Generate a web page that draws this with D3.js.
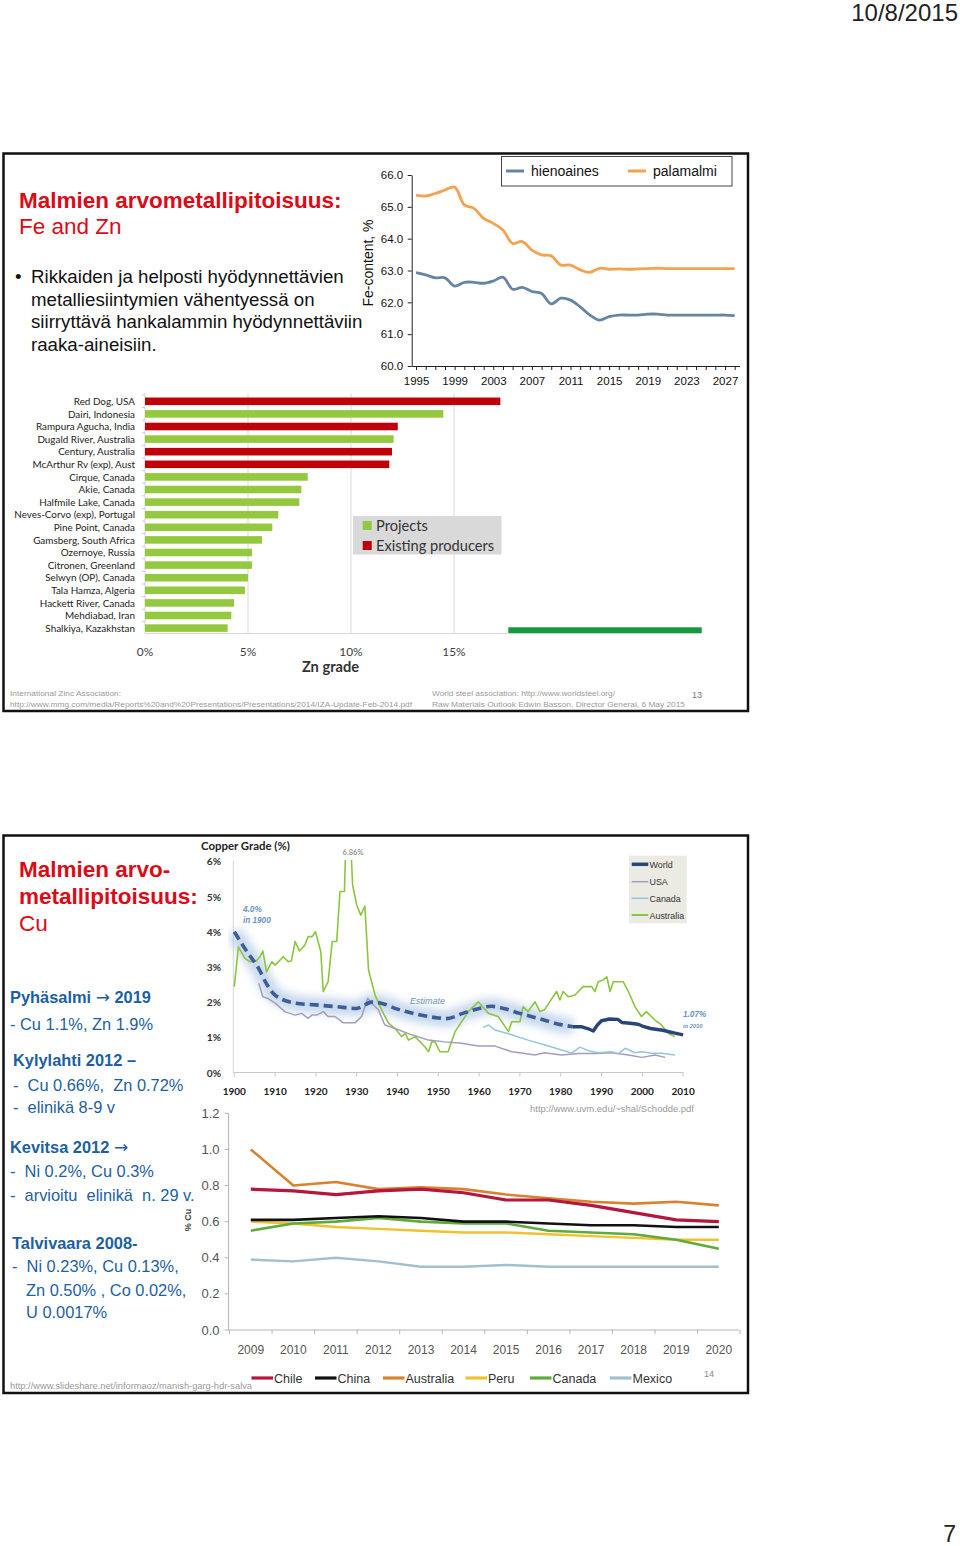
<!DOCTYPE html>
<html><head><meta charset="utf-8">
<script src="https://cdn.jsdelivr.net/npm/d3@7"></script>
<style>body{margin:0;background:#fff}svg{display:block}</style>
</head><body><svg id="c" width="960" height="1546"></svg>
<script>
// ---------------- DATA ----------------
const feYears = [1995,1996,1997,1998,1999,2000,2001,2002,2003,2004,2005,2006,2007,2008,2009,2010,2011,2012,2013,2014,2015,2016,2017,2018,2019,2020,2021,2022,2023,2024,2025,2026,2027,2028];
const fePalamalmi = [65.37,65.34,65.42,65.53,65.62,65.06,64.95,64.64,64.48,64.27,63.85,63.91,63.64,63.49,63.46,63.17,63.17,63.02,62.94,63.07,63.04,63.05,63.04,63.05,63.06,63.07,63.06,63.06,63.06,63.06,63.06,63.06,63.06,63.06];
const feHienoaines = [62.93,62.86,62.77,62.77,62.51,62.63,62.63,62.60,62.67,62.79,62.41,62.47,62.34,62.28,61.95,62.13,62.07,61.86,61.60,61.44,61.55,61.60,61.60,61.60,61.63,61.63,61.60,61.60,61.60,61.60,61.60,61.60,61.60,61.58];
const feYTicks = [60,61,62,63,64,65,66];
const feSeriesNames = ["hienoaines","palamalmi"];

const znMines = ["Red Dog, USA","Dairi, Indonesia","Rampura Agucha, India","Dugald River, Australia","Century, Australia","McArthur Rv (exp), Aust","Cirque, Canada","Akie, Canada","Halfmile Lake, Canada","Neves-Corvo (exp), Portugal","Pine Point, Canada","Gamsberg, South Africa","Ozernoye, Russia","Citronen, Greenland","Selwyn (OP), Canada","Tala Hamza, Algeria","Hackett River, Canada","Mehdiabad, Iran","Shalkiya, Kazakhstan"];
const znGrade = [17.25,14.48,12.27,12.07,11.99,11.86,7.90,7.59,7.49,6.47,6.18,5.68,5.19,5.19,5.00,4.85,4.32,4.19,4.01];
const znType = ["E","P","E","P","E","E","P","P","P","P","P","P","P","P","P","P","P","P","P"];
const znTicks = [0,5,10,15];
const znLegend = ["Projects","Existing producers"];

const cuYTicks = [0,1,2,3,4,5,6];
const cuXTicks = [1900,1910,1920,1930,1940,1950,1960,1970,1980,1990,2000,2010];
const cuWorldEstimate = [[1900,4.0],[1903,3.45],[1906,2.95],[1908,2.5],[1910,2.2],[1915,1.97],[1920,1.92],[1925,1.87],[1930,1.82],[1933.7,2.0],[1936,1.97],[1940,1.8],[1945,1.65],[1950,1.55],[1952,1.53],[1956,1.68],[1960,1.82],[1963,1.88],[1966,1.82],[1970,1.68],[1975,1.52],[1980,1.36],[1983,1.30]];
const cuWorld = [[1983,1.30],[1985,1.30],[1987,1.23],[1988,1.18],[1989,1.35],[1990,1.47],[1992,1.52],[1994,1.51],[1995,1.42],[1997,1.40],[1999,1.37],[2000,1.32],[2002,1.25],[2005,1.20],[2008,1.12],[2010,1.07]];
const cuAustralia = [[1900,2.44],[1901,3.57],[1902.6,3.24],[1903.8,3.15],[1905.4,3.17],[1906.3,3.29],[1907,3.45],[1907.9,2.86],[1909.2,3.15],[1910,3.05],[1912,3.29],[1913.2,3.15],[1914,3.17],[1914.9,3.72],[1916,3.45],[1917.3,3.62],[1918.1,3.86],[1919.1,3.86],[1919.9,4.0],[1921.2,3.43],[1921.8,2.3],[1923,2.58],[1924,3.72],[1925.1,3.72],[1925.9,5.14],[1927,5.14],[1927.4,6.86],[1928.4,6.86],[1929,5.33],[1930,4.76],[1931,4.47],[1932,4.73],[1932.9,2.91],[1934.5,2.2],[1936.1,1.78],[1937.8,1.40],[1939.4,1.25],[1941,1.02],[1941.9,1.11],[1942.7,0.92],[1944.3,1.02],[1946.7,0.73],[1947.6,0.59],[1948.4,0.87],[1949.2,0.87],[1950.4,0.59],[1952.4,0.59],[1954.1,1.16],[1955.7,1.44],[1957.4,1.73],[1959.8,2.01],[1962.3,1.68],[1964.7,1.59],[1967.2,1.16],[1968,1.44],[1970,1.44],[1970.8,1.87],[1972,1.73],[1973.7,2.01],[1974.9,1.73],[1976,1.78],[1979,2.30],[1979.8,2.06],[1980.6,2.30],[1981.9,2.15],[1983.5,2.20],[1985.5,2.44],[1987.6,2.44],[1988.4,2.30],[1989.2,2.58],[1990.4,2.63],[1991.3,2.72],[1992.1,2.30],[1992.9,2.58],[1995.3,2.58],[1996.6,2.30],[1998.2,1.87],[1999.8,1.59],[2001,1.73],[2003.1,1.49],[2004.7,1.35],[2006.4,1.11],[2008,1.02]];
const cuUSA = [[1906,2.53],[1907,2.15],[1908.3,2.10],[1910,1.97],[1912.4,1.73],[1914.9,1.63],[1916.5,1.68],[1918.1,1.54],[1919,1.63],[1920.2,1.63],[1921.8,1.73],[1923,1.59],[1924.7,1.59],[1926.7,1.41],[1929.6,1.41],[1931.2,1.59],[1932.7,2.11],[1933.7,1.97],[1935.3,1.78],[1936.9,1.35],[1939.4,1.25],[1943.5,1.07],[1947.6,0.92],[1951.6,0.87],[1955.7,0.83],[1959.8,0.75],[1963.9,0.75],[1968,0.59],[1970.8,0.55],[1973.7,0.50],[1976,0.56],[1980.2,0.50],[1984.3,0.54],[1988.4,0.54],[1992.5,0.56],[1996.6,0.50],[1999.9,0.43],[2003.1,0.50],[2005.6,0.43]];
const cuCanada = [[1961,1.28],[1962.3,1.35],[1963.9,1.21],[1968,1.07],[1972,0.92],[1976.2,0.78],[1980.2,0.64],[1982.7,0.55],[1984.7,0.72],[1986.8,0.62],[1989.2,0.56],[1992.5,0.59],[1994.1,0.53],[1995.8,0.69],[1998.2,0.56],[1999.9,0.59],[2002.3,0.55],[2004.8,0.55],[2008,0.50]];
const cuLegendNames = ["World","USA","Canada","Australia"];

const gradeYears = ["2009","2010","2011","2012","2013","2014","2015","2016","2017","2018","2019","2020"];
const gradeYTicks = [0,0.2,0.4,0.6,0.8,1.0,1.2];
const gradeCountries = ["Chile","China","Australia","Peru","Canada","Mexico"];
const gradeChile = [0.78,0.77,0.75,0.77,0.78,0.76,0.72,0.72,0.69,0.65,0.61,0.60];
const gradeChina = [0.61,0.61,0.62,0.63,0.62,0.60,0.60,0.59,0.58,0.58,0.57,0.57];
const gradeAustralia = [1.00,0.80,0.82,0.78,0.79,0.78,0.75,0.73,0.71,0.70,0.71,0.69];
const gradePeru = [0.60,0.59,0.57,0.56,0.55,0.54,0.54,0.53,0.52,0.51,0.50,0.50];
const gradeCanada = [0.55,0.59,0.60,0.62,0.60,0.59,0.59,0.55,0.54,0.53,0.50,0.45];
const gradeMexico = [0.39,0.38,0.40,0.38,0.35,0.35,0.36,0.35,0.35,0.35,0.35,0.35];

// ---------------- STYLE ----------------
const ARIAL = "'Liberation Sans', Arial, sans-serif";
const NARROW = "'Liberation Sans Narrow', 'Liberation Sans', Arial, sans-serif";
const CAL = "Lato, 'Open Sans', sans-serif";
const RED = "#dc0a16";
const BLUE = "#1d5fa3";

const svg = d3.select("#c");
svg.append("rect").attr("width",960).attr("height",1546).attr("fill","#fff");
const defs = svg.append("defs");
defs.append("filter").attr("id","glow").attr("x","-20%").attr("y","-50%").attr("width","140%").attr("height","200%")
  .append("feGaussianBlur").attr("stdDeviation",4);
defs.append("clipPath").attr("id","cuclip").append("rect").attr("x",228).attr("y",860).attr("width",470).attr("height",220);

function txt(g, x, y, s, o={}) {
  const fs = o.fs || 12;
  const t = g.append("text").attr("x",x).attr("y",y).text(s)
    .attr("font-family", o.ff || ARIAL).attr("font-size", fs)
    .attr("fill", o.fill || "#000");
  if (o.fw) t.attr("font-weight", o.fw);
  if (o.anchor) t.attr("text-anchor", o.anchor);
  if (o.italic) t.attr("font-style","italic");
  if (o.w) { const w = t.node().getComputedTextLength(); t.attr("font-size", fs*o.w/w); }
  if (o.tl) t.attr("textLength", o.tl).attr("lengthAdjust","spacingAndGlyphs");
  return t;
}
function fitSize(ff, fw, fs, s, target, italic) {
  const t = svg.append("text").attr("font-family",ff).attr("font-size",fs).attr("font-weight",fw||"normal").attr("font-style", italic?"italic":"normal").text(s);
  const w = t.node().getComputedTextLength(); t.remove();
  return fs*target/w;
}

// header / page number
txt(svg, 958, 21, "10/8/2015", {fs:24, anchor:"end", fill:"#222"});
txt(svg, 956, 1542, "7", {fs:23, anchor:"end", fill:"#222"});

// slide frames
svg.append("rect").attr("x",3.5).attr("y",153.5).attr("width",744.5).attr("height",557.5).attr("fill","none").attr("stroke","#111").attr("stroke-width",2.5);
svg.append("rect").attr("x",3.5).attr("y",835.5).attr("width",744.5).attr("height",557.5).attr("fill","none").attr("stroke","#111").attr("stroke-width",2.5);

// ================= SLIDE 1 =================
const s1 = svg.append("g");
txt(s1, 19, 208, "Malmien arvometallipitoisuus:", {fs:22.5, fw:"bold", fill:RED});
txt(s1, 19, 234, "Fe and Zn", {fs:22.5, fill:RED});
txt(s1, 15, 283, "•", {fs:18.7, fill:"#111"});
const bullet = ["Rikkaiden ja helposti hyödynnettävien","metalliesiintymien vähentyessä on","siirryttävä hankalammin hyödynnettäviin","raaka-aineisiin."];
bullet.forEach((l,i)=>txt(s1, 31, 283 + i*22.5, l, {fs:18.7, fill:"#111"}));

// ---- Fe chart ----
const xFe = d3.scaleLinear().domain([1994.55, 2028.5]).range([411.7, 739.5]);
const yFe = d3.scaleLinear().domain([60,66]).range([366,175]);
const feG = s1.append("g");
const yAx = feG.append("g").attr("transform","translate(411.7,0)")
  .call(d3.axisLeft(yFe).tickValues(feYTicks).tickFormat(d3.format(".1f")).tickSize(4).tickPadding(4.5).tickSizeOuter(0));
const xAx = feG.append("g").attr("transform","translate(0,366)")
  .call(d3.axisBottom(xFe).tickValues(feYears).tickFormat(d => (d-1995)%4===0 ? d : "").tickSize(4).tickPadding(6.5).tickSizeOuter(0));
[yAx,xAx].forEach(a=>{
  a.selectAll("path,line").attr("stroke","#222").attr("stroke-width",1);
  a.selectAll("text").attr("font-family",NARROW).attr("font-size",11.5).attr("fill","#111");
});
const feLine = d3.line().x((d,i)=>xFe(feYears[i])).y(d=>yFe(d)).curve(d3.curveCatmullRom.alpha(0.5));
feG.append("path").attr("d",feLine(feHienoaines)).attr("fill","none").attr("stroke","#6685a6").attr("stroke-width",2.8);
feG.append("path").attr("d",feLine(fePalamalmi)).attr("fill","none").attr("stroke","#f4a24e").attr("stroke-width",2.8);
txt(feG, 0, 0, "Fe-content, %", {fs:14, anchor:"middle", fill:"#111"}).attr("transform","translate(373,263) rotate(-90)");
// legend
feG.append("rect").attr("x",501.5).attr("y",156.5).attr("width",230.5).attr("height",29.5).attr("fill","#fff").attr("stroke","#444");
const feLegCol = ["#6685a6","#f4a24e"], feLegX = [506, 628];
feSeriesNames.forEach((n,i)=>{
  feG.append("line").attr("x1",feLegX[i]).attr("x2",feLegX[i]+18).attr("y1",171).attr("y2",171).attr("stroke",feLegCol[i]).attr("stroke-width",3);
  txt(feG, feLegX[i]+25, 176, n, {fs:14, fill:"#111"});
});

// ---- Zn chart ----
const znG = s1.append("g");
const xZn = d3.scaleLinear().domain([0,15]).range([145, 454]);
const yZn = d3.scaleBand().domain(znMines).range([395, 634.4]).paddingInner(0.4).paddingOuter(0.2);
znTicks.forEach(t=>{
  znG.append("line").attr("x1",xZn(t)).attr("x2",xZn(t)).attr("y1",393).attr("y2",633.5).attr("stroke", "#d9d9d9").attr("stroke-width",1);
});
znG.append("line").attr("x1",145).attr("x2",508).attr("y1",633.5).attr("y2",633.5).attr("stroke","#d9d9d9");
znMines.forEach((m,i)=>{
  const y0 = yZn.step()*i + 395;
  znG.append("line").attr("x1",142).attr("x2",145).attr("y1",y0).attr("y2",y0).attr("stroke","#ccc");
});
znG.selectAll("rect.bar").data(znMines).enter().append("rect").attr("class","bar")
  .attr("x",xZn(0)).attr("y",d=>yZn(d)).attr("height",yZn.bandwidth())
  .attr("width",(d,i)=>xZn(znGrade[i])-xZn(0))
  .attr("fill",(d,i)=>znType[i]==="E" ? "#c00008" : "#94c83e");
const znLabFs = fitSize(CAL, "normal", 10, "Neves-Corvo (exp), Portugal", 121);
znMines.forEach(m=>{
  txt(znG, 135, yZn(m)+yZn.bandwidth()/2+3.6, m, {fs:znLabFs, ff:CAL, anchor:"end", fill:"#222"});
});
const znTickFs = fitSize(CAL, "normal", 12, "10%", 23.3);
znTicks.forEach(t=>txt(znG, xZn(t), 656, t+"%", {fs:znTickFs, ff:CAL, anchor:"middle", fill:"#404040"}));
txt(znG, 330.5, 671.5, "Zn grade", {fs:14, ff:CAL, fw:"bold", anchor:"middle", fill:"#333", w:57.3});
// legend
znG.append("rect").attr("x",353).attr("y",516).attr("width",148.5).attr("height",38.5).attr("fill","#d9d9d9");
const znLegCol = ["#94c83e","#c00008"];
const znLegFs = fitSize(CAL, "normal", 14, "Existing producers", 118.3);
znLegend.forEach((n,i)=>{
  znG.append("rect").attr("x",362.7).attr("y",521+i*20).attr("width",9).attr("height",9).attr("fill",znLegCol[i]);
  txt(znG, 376, 530.5+i*20, n, {fs:znLegFs, ff:CAL, fill:"#333"});
});
znG.append("rect").attr("x",508.3).attr("y",627.3).attr("width",193.4).attr("height",6).attr("fill","#14993c");

// footers
txt(s1, 10, 696, "International Zinc Association:", {fs:8, ff:NARROW, fill:"#9a9a9a", tl:111});
txt(s1, 10, 707, "http://www.mmg.com/media/Reports%20and%20Presentations/Presentations/2014/IZA-Update-Feb-2014.pdf", {fs:8, ff:NARROW, fill:"#9a9a9a", tl:402});
txt(s1, 432, 696, "World steel association: http://www.worldsteel.org/", {fs:8, ff:NARROW, fill:"#9a9a9a", tl:183});
txt(s1, 432, 707, "Raw Materials Outlook  Edwin Basson, Director General,  6 May 2015", {fs:8, ff:NARROW, fill:"#9a9a9a", tl:253});
txt(s1, 692, 698, "13", {fs:9, ff:NARROW, fill:"#777"});

// ================= SLIDE 2 =================
const s2 = svg.append("g");
txt(s2, 19, 877, "Malmien arvo-", {fs:22.5, fw:"bold", fill:RED});
txt(s2, 19, 904, "metallipitoisuus:", {fs:22.5, fw:"bold", fill:RED});
txt(s2, 19, 931, "Cu", {fs:22.5, fill:RED});

const leftTexts = [
  [10,1003,"Pyhäsalmi \u2192 2019",true],
  [10,1030,"- Cu 1.1%, Zn 1.9%",false],
  [13,1066,"Kylylahti 2012 \u2013",true],
  [13,1091,"-  Cu 0.66%,  Zn 0.72%",false],
  [13,1113,"-  elinikä 8-9 v",false],
  [10,1153,"Kevitsa 2012 \u2192",true],
  [10,1177,"-  Ni 0.2%, Cu 0.3%",false],
  [10,1201,"-  arvioitu  elinikä  n. 29 v.",false],
  [12,1249,"Talvivaara 2008-",true],
  [12,1272,"-  Ni 0.23%, Cu 0.13%,",false],
  [26,1296,"Zn 0.50% , Co 0.02%,",false],
  [26,1318,"U 0.0017%",false]
];
leftTexts.forEach(d=>{
  const t = s2.append("text").attr("x",d[0]).attr("y",d[1]).attr("font-family",ARIAL).attr("font-size",16.4)
    .attr("font-weight", d[3]?"bold":"normal").attr("fill",BLUE).style("white-space","pre");
  d[2].split(/(\u2192)/).forEach(part=>{
    if (part === "\u2192") t.append("tspan").attr("font-family","'DejaVu Sans', sans-serif").attr("font-weight","normal").attr("font-size",17).text(part);
    else if (part.length) t.append("tspan").text(part);
  });
});

// ---- Copper grade chart ----
const cuG = s2.append("g");
const xCu = d3.scaleLinear().domain([1900,2010]).range([234.3,683.1]);
const yCu = d3.scaleLinear().domain([0,6]).range([1072.5,861.3]);
cuG.append("line").attr("x1",233.3).attr("x2",233.3).attr("y1",861).attr("y2",1072.5).attr("stroke","#d4d4d4");
cuG.append("line").attr("x1",233.3).attr("x2",683.5).attr("y1",1072.5).attr("y2",1072.5).attr("stroke","#c8c8c8");
cuXTicks.forEach(t=>cuG.append("line").attr("x1",xCu(t)).attr("x2",xCu(t)).attr("y1",1072.5).attr("y2",1076.5).attr("stroke","#c8c8c8"));
const cuYFs = fitSize(CAL, "bold", 11, "6%", 14.3);
cuYTicks.forEach(t=>txt(cuG, 221, yCu(t)+4, t+"%", {fs:cuYFs, ff:CAL, fw:"bold", anchor:"end", fill:"#333"}));
const cuXFs = fitSize(CAL, "bold", 11, "1900", 23.3);
cuXTicks.forEach(t=>txt(cuG, xCu(t), 1095, t, {fs:cuXFs, ff:CAL, fw:"bold", anchor:"middle", fill:"#222"}));
txt(cuG, 201, 850, "Copper Grade (%)", {fs:11, ff:CAL, fw:"bold", fill:"#222", w:89});

const cuLine = d3.line().x(d=>xCu(d[0])).y(d=>yCu(d[1]));
const cuSmooth = d3.line().x(d=>xCu(d[0])).y(d=>yCu(d[1])).curve(d3.curveMonotoneX);
const clipG = cuG.append("g").attr("clip-path","url(#cuclip)");
clipG.append("path").attr("d",cuSmooth(cuWorldEstimate)).attr("fill","none").attr("stroke","#a9c3e3").attr("stroke-width",16).attr("opacity",0.65).attr("filter","url(#glow)");
clipG.append("path").attr("d",cuLine(cuAustralia)).attr("fill","none").attr("stroke","#8cc63e").attr("stroke-width",1.6).attr("stroke-linejoin","round");
clipG.append("path").attr("d",cuLine(cuUSA)).attr("fill","none").attr("stroke","#a49cbf").attr("stroke-width",1.5).attr("stroke-linejoin","round");
clipG.append("path").attr("d",cuLine(cuCanada)).attr("fill","none").attr("stroke","#93c6df").attr("stroke-width",1.5).attr("stroke-linejoin","round");
clipG.append("path").attr("d",cuSmooth(cuWorldEstimate)).attr("fill","none").attr("stroke","#3c5d99").attr("stroke-width",3.6).attr("stroke-dasharray","9,5");
clipG.append("path").attr("d",cuLine(cuWorld)).attr("fill","none").attr("stroke","#274579").attr("stroke-width",3.4).attr("stroke-linejoin","round");

txt(cuG, 353, 854.5, "6.86%", {fs:7.5, ff:CAL, anchor:"middle", fill:"#777"});
txt(cuG, 243, 912, "4.0%", {fs:8.2, fw:"bold", italic:true, fill:"#6a93bd"});
txt(cuG, 243, 923, "in 1900", {fs:8.2, fw:"bold", italic:true, fill:"#6a93bd", w:27.7});
txt(cuG, 410, 1004, "Estimate", {fs:10, italic:true, fill:"#6a93bd", w:35});
txt(cuG, 683, 1017, "1.07%", {fs:8.2, fw:"bold", italic:true, fill:"#6a93bd"});
txt(cuG, 683, 1028, "in 2010", {fs:8.2, fw:"bold", italic:true, fill:"#6a93bd", w:19.5});
txt(cuG, 530, 1112, "http://www.uvm.edu/~shal/Schodde.pdf", {fs:9, ff:NARROW, fill:"#9a9a9a", tl:164});

// copper legend
cuG.append("rect").attr("x",629).attr("y",855.7).attr("width",57.7).attr("height",67.6).attr("fill","#ecebe3");
const cuLegCol = ["#274579","#a49cbf","#93c6df","#8cc63e"], cuLegW = [3.5,1.5,1.5,2], cuLegY = [864.3,881.7,898.3,915];
const cuLegFs = fitSize(NARROW, "normal", 11, "Australia", 34.7);
cuLegendNames.forEach((n,i)=>{
  cuG.append("line").attr("x1",631.7).attr("x2",648.3).attr("y1",cuLegY[i]).attr("y2",cuLegY[i]).attr("stroke",cuLegCol[i]).attr("stroke-width",cuLegW[i]);
  txt(cuG, 649.5, cuLegY[i]+3.7, n, {fs:cuLegFs, ff:NARROW, fill:"#333"});
});

// ---- bottom grade chart ----
const gG = s2.append("g");
const xG = d3.scalePoint().domain(gradeYears).range([250.8,718.8]);
const yG = d3.scaleLinear().domain([0,1.2]).range([1330,1113.3]);
const stepG = xG.step();
gG.append("line").attr("x1",228.6).attr("x2",228.6).attr("y1",1113.3).attr("y2",1330).attr("stroke","#b5b5b5");
gG.append("line").attr("x1",228.6).attr("x2",739.2).attr("y1",1330).attr("y2",1330).attr("stroke","#b5b5b5");
gradeYTicks.forEach(t=>{
  gG.append("line").attr("x1",224.6).attr("x2",228.6).attr("y1",yG(t)).attr("y2",yG(t)).attr("stroke","#b5b5b5");
  txt(gG, 219.5, yG(t)+4.5, d3.format(".1f")(t), {fs:13, fill:"#555", anchor:"end"});
});
gradeYears.forEach((y,i)=>{
  const bx = xG(y) - stepG/2;
  gG.append("line").attr("x1",bx).attr("x2",bx).attr("y1",1330).attr("y2",1334).attr("stroke","#b5b5b5");
  if (i===gradeYears.length-1) gG.append("line").attr("x1",bx+stepG).attr("x2",bx+stepG).attr("y1",1330).attr("y2",1334).attr("stroke","#b5b5b5");
  txt(gG, xG(y), 1353.5, y, {fs:12, ff:NARROW, anchor:"middle", fill:"#555"});
});
txt(gG, 0, 0, "% Cu", {fs:9, fw:"bold", anchor:"middle", fill:"#444"}).attr("transform","translate(191,1220) rotate(-90)");

const gradeSeries = {Chile:gradeChile, China:gradeChina, Australia:gradeAustralia, Peru:gradePeru, Canada:gradeCanada, Mexico:gradeMexico};
const gradeCol = {Chile:"#b5163c", China:"#111111", Australia:"#d9812e", Peru:"#f2c12e", Canada:"#5eab3c", Mexico:"#a2bfcf"};
const gradeW = {Chile:3.2, China:2.6, Australia:2.6, Peru:2.4, Canada:2.6, Mexico:2.4};
const gLine = d3.line().x((d,i)=>xG(gradeYears[i])).y(d=>yG(d));
["Mexico","Peru","Canada","China","Australia","Chile"].forEach(c=>{
  gG.append("path").attr("d",gLine(gradeSeries[c])).attr("fill","none").attr("stroke",gradeCol[c]).attr("stroke-width",gradeW[c]).attr("stroke-linejoin","round");
});
const gLegX = [251.5,315,383,465.5,530,610];
gradeCountries.forEach((c,i)=>{
  gG.append("line").attr("x1",gLegX[i]).attr("x2",gLegX[i]+21.5).attr("y1",1378).attr("y2",1378).attr("stroke",gradeCol[c]).attr("stroke-width",3.2);
  txt(gG, gLegX[i]+22.5, 1382.5, c, {fs:12.5, fill:"#333"});
});
txt(s2, 704, 1377, "14", {fs:9, ff:NARROW, fill:"#888"});
txt(s2, 10, 1389, "http://www.slideshare.net/informaoz/manish-garg-hdr-salva", {fs:9, ff:NARROW, fill:"#9a9a9a", tl:242});
</script>
</body></html>
